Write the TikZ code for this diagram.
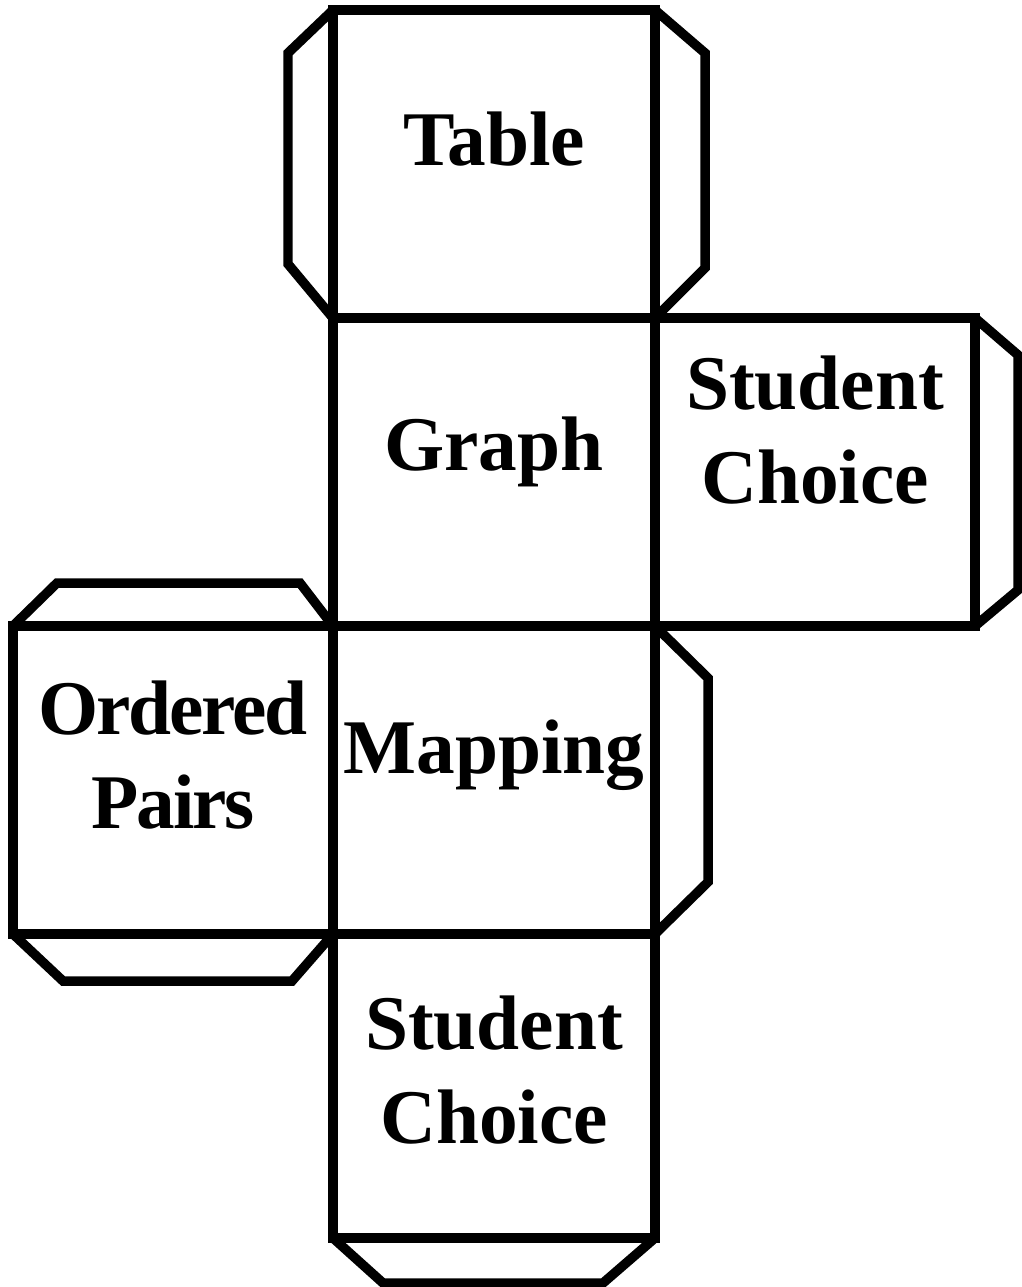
\documentclass[tikz,border=0pt]{standalone}
\usepackage{fontspec}
\setmainfont{Liberation Serif}
\usetikzlibrary{positioning}
\tikzset{
  every picture/.style={line width=2.7pt},
  face/.style={draw, minimum width=3.22cm, minimum height=3.08cm, outer sep=0pt, inner sep=0pt},
  facetext/.style={font=\bfseries\fontsize{22}{26.5}\selectfont, align=center},
  tab/.style={draw, line join=miter},
}
\begin{document}
\begin{tikzpicture}
  \useasboundingbox (0,0) rectangle (10.22,-12.87);

  % faces of the cube net
  \node[face] (table) at (4.94,-1.64) {};
  \node[face, below=0pt of table] (graph) {};
  \node[face, right=0pt of graph, minimum width=3.20cm] (choiceR) {};
  \node[face, below=0pt of graph] (mapping) {};
  \node[face, left=0pt of mapping, minimum width=3.20cm] (pairs) {};
  \node[face, below=0pt of mapping, minimum height=3.04cm] (choiceB) {};

  % glue tabs
  \draw[tab] (table.north west) -- ++(-0.45,-0.43) -- ++(0,-2.11) -- (table.south west);
  \draw[tab] (table.north east) -- ++(0.50,-0.43) -- ++(0,-2.15) -- (table.south east);
  \draw[tab] (choiceR.north east) -- ++(0.43,-0.37) -- ++(0,-2.35) -- (choiceR.south east);
  \draw[tab] (pairs.north west) -- ++(0.44,0.43) -- ++(2.43,0) -- (pairs.north east);
  \draw[tab] (pairs.south west) -- ++(0.50,-0.47) -- ++(2.29,0) -- (pairs.south east);
  \draw[tab] (mapping.north east) -- ++(0.53,-0.52) -- ++(0,-2.04) -- (mapping.south east);
  \draw[tab] (choiceB.south west) -- ++(0.50,-0.45) -- ++(2.20,0) -- (choiceB.south east);

  % labels
  \node[facetext] (tableT) at ([yshift=0.25cm]table.center) {Table};
  \node[facetext] (graphT) at ([yshift=0.20cm]graph.center) {Graph};
  \node[facetext] (choiceRT) at ([yshift=0.42cm]choiceR.center) {Student\\Choice};
  \node[facetext] (mappingT) at ([yshift=0.25cm]mapping.center) {Mapping};
  \node[facetext] (pairsT) at ([yshift=0.25cm]pairs.center) {\addfontfeature{LetterSpace=-3}Ordered\\\addfontfeature{LetterSpace=-3}Pairs};
  \node[facetext] (choiceBT) at ([yshift=0.16cm]choiceB.center) {Student\\Choice};
\end{tikzpicture}
\end{document}
